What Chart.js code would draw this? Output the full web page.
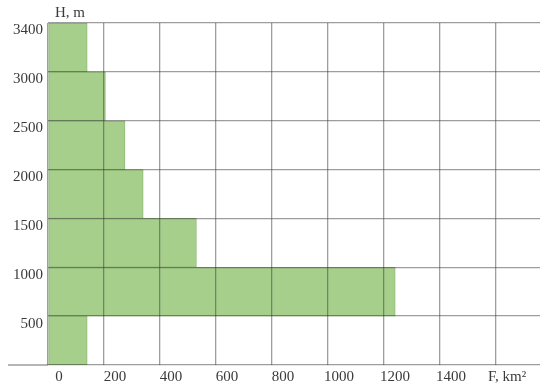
<!DOCTYPE html>
<html>
<head>
<meta charset="utf-8">
<script src="https://cdn.jsdelivr.net/npm/chart.js@4.4.1/dist/chart.umd.min.js"></script>
<style>
  html, body { margin: 0; padding: 0; background: #fff; }
  #wrap { width: 540px; height: 386px; position: relative; }
</style>
</head>
<body>
<div id="wrap"><canvas id="c"></canvas></div>
<script>
// Elevation bands, labelled by their upper bound (m), lowest first
const bandTops = ['500', '1000', '1500', '2000', '2500', '3000', '3400'];
// Area within each band (km²)
const bandArea = [140, 1240, 530, 340, 275, 205, 140];
// Horizontal axis ticks (km²), the last position carries the axis name
const areaTicks = [0, 200, 400, 600, 800, 1000, 1200, 1400, 1600];

const serif = '"Liberation Serif", "DejaVu Serif", serif';
const textColor = '#3a3a3a';
const gridColor = 'rgba(60,60,60,0.5)';

// Highest band drawn at the top
const labelsTopDown = bandTops.slice().reverse();
const areaTopDown = bandArea.slice().reverse();

// Elevation caption and the base line running out to the left
const axisExtras = {
  id: 'axisExtras',
  afterDraw(chart) {
    const { ctx, chartArea } = chart;
    ctx.save();
    ctx.font = '15px ' + serif;
    ctx.fillStyle = textColor;
    ctx.textAlign = 'left';
    ctx.textBaseline = 'middle';
    ctx.fillText('H, m', chartArea.left + 7, 13);
    ctx.strokeStyle = gridColor;
    ctx.lineWidth = 1.3;
    ctx.beginPath();
    ctx.moveTo(8, chartArea.bottom);
    ctx.lineTo(chartArea.left, chartArea.bottom);
    ctx.stroke();
    ctx.restore();
  }
};

new Chart(document.getElementById('c'), {
  type: 'bar',
  data: {
    labels: labelsTopDown,
    datasets: [{
      data: areaTopDown,
      backgroundColor: '#a6cf8b',
      borderColor: '#8fbb76',
      borderWidth: 1,
      borderSkipped: false,
      barPercentage: 1,
      categoryPercentage: 1
    }]
  },
  options: {
    indexAxis: 'y',
    responsive: true,
    maintainAspectRatio: false,
    animation: false,
    layout: { padding: { top: 23, right: 0, left: 0, bottom: 0 } },
    plugins: {
      legend: { display: false },
      tooltip: { enabled: false }
    },
    scales: {
      x: {
        type: 'linear',
        min: 0,
        max: 1757,
        afterBuildTicks(scale) {
          scale.ticks = areaTicks.map(v => ({ value: v }));
        },
        afterFit(scale) { scale.height = 21; },
        grid: { color: gridColor, lineWidth: 1.3, drawTicks: false, z: 1 },
        border: { display: false },
        ticks: {
          includeBounds: false,
          autoSkip: false,
          maxRotation: 0,
          padding: 3,
          labelOffset: 11,
          color: textColor,
          font: { family: serif, size: 15 },
          callback: v => (v === 1600 ? 'F, km\u00B2' : String(v))
        }
      },
      y: {
        type: 'category',
        afterFit(scale) { scale.width = 48; },
        grid: { offset: true, color: gridColor, lineWidth: 1.3, drawTicks: false, z: 1 },
        border: { display: false },
        ticks: {
          padding: 5,
          labelOffset: -17,
          color: textColor,
          font: { family: serif, size: 15 }
        }
      }
    }
  },
  plugins: [axisExtras]
});
</script>
</body>
</html>
